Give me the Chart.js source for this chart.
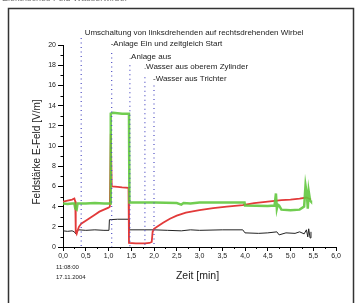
<!DOCTYPE html>
<html>
<head>
<meta charset="utf-8">
<script src="https://cdn.jsdelivr.net/npm/chart.js@4/dist/chart.umd.min.js"></script>
<style>
html,body{margin:0;padding:0;background:#fff;}
#c{display:block;}
</style>
</head>
<body>
<canvas id="c" width="356" height="303" style="width:356px;height:303px"></canvas>
<script>
// ---- data ----
const xTicks = [0,0.5,1,1.5,2,2.5,3,3.5,4,4.5,5,5.5,6];
const yTicks = [0,2,4,6,8,10,12,14,16,18,20];

const greenT = [0,0.1,0.2,0.25,0.27,0.3,0.32,0.5,0.7,0.9,1.04,1.05,1.1,1.3,1.45,1.46,2.0,2.5,2.6,2.65,2.8,3.0,3.5,3.99,4.0,4.5,4.65,4.68,4.7,4.72,4.75,4.8,5.0,5.2,5.3,5.33,5.36,5.38,5.4,5.43,5.45];
const greenV = [4.3,4.25,4.3,4.3,3.8,3.7,4.3,4.3,4.35,4.3,4.3,13.2,13.3,13.2,13.2,4.4,4.4,4.35,4.2,4.35,4.3,4.4,4.4,4.4,4.1,4.05,4.1,5.3,3.8,4.2,4.1,3.7,3.65,3.7,4.0,6.1,5.2,3.8,5.5,4.6,4.5];

const redT = [0,0.1,0.2,0.25,0.27,0.28,0.3,0.32,0.35,0.4,0.5,0.6,0.7,0.8,0.9,1.0,1.03,1.05,1.07,1.08,1.2,1.3,1.44,1.45,1.6,1.8,1.9,1.95,1.97,2.0,2.1,2.2,2.35,2.5,2.7,3.0,3.3,3.6,3.95,4.2,4.5,4.8,5.0,5.2,5.35,5.4,5.45];
const redV = [4.5,4.6,4.7,4.8,4.5,1.5,1.3,1.6,2.0,2.3,2.6,2.9,3.2,3.5,3.7,3.9,4.0,11.2,6.1,6.0,5.95,5.9,5.85,0.4,0.35,0.35,0.4,0.5,1.5,1.8,2.1,2.4,2.8,3.1,3.4,3.65,3.85,4.0,4.15,4.35,4.5,4.65,4.7,4.8,4.9,4.8,4.7];

const blackT = [0,0.1,0.2,0.25,0.28,0.3,0.35,0.5,0.7,0.9,1.01,1.02,1.2,1.44,1.45,1.8,2.0,2.3,2.6,2.8,3.0,3.5,3.95,4.0,4.3,4.5,4.7,4.75,4.9,5.1,5.2,5.3,5.35,5.38,5.4,5.43,5.45];
const blackV = [1.6,1.55,1.6,1.5,1.3,1.6,1.7,1.65,1.7,1.65,1.65,2.7,2.75,2.75,1.7,1.7,1.7,1.65,1.6,1.7,1.65,1.7,1.7,1.4,1.35,1.4,1.5,1.2,1.4,1.35,1.5,1.3,1.7,1.0,1.8,0.9,1.5];

const annX = [0.4, 1.07, 1.47, 1.8, 2.0];
const annTop = [20.7, 19.2, 18.0, 16.8, 16.0];
const annLabelY = [21.2, 20.1, 18.8, 17.8, 16.7];
const annLabels = [
  "  Umschaltung von linksdrehenden auf rechtsdrehenden Wirbel",
  "-Anlage Ein und zeitgleich Start",
  ".Anlage aus",
  ".Wasser aus oberem Zylinder",
  "-Wasser aus Trichter"
];
const xTitle = "Zeit [min]";
const yTitle = "Feldstärke E-Feld [V/m]";
const stampTime = "11:08:00";
const stampDate = "17.11.2004";
const topText = "Elektrisches Feld Wasserwirbel";

// ---- build ----
const pts = (t, v) => t.map((x, i) => ({x: x, y: v[i]}));
const datasets = [];
annX.forEach((x, i) => {
  datasets.push({
    data: [{x: x, y: annTop[i]}, {x: x, y: 0}],
    borderColor: '#4f4fc4', borderWidth: 1.2, borderDash: [1, 3.5],
    pointRadius: 0, clip: false, order: 0
  });
});
datasets.push({data: pts(greenT, greenV), borderColor: 'rgba(98,200,62,0.9)', borderWidth: 2.5, pointRadius: 0, order: 1});
datasets.push({data: pts(redT, redV), borderColor: '#e23a3a', borderWidth: 1.8, pointRadius: 0, order: 2});
datasets.push({data: pts(blackT, blackV), borderColor: '#222', borderWidth: 1, pointRadius: 0, order: 3});

const decor = {
  id: 'decor',
  beforeDraw(chart) {
    const ctx = chart.ctx;
    ctx.save();
    ctx.fillStyle = '#fff';
    ctx.fillRect(0, 0, chart.width, chart.height);
    ctx.strokeStyle = '#333';
    ctx.lineWidth = 1.5;
    ctx.strokeRect(8.5, 8.5, 345, 400);
    ctx.fillStyle = '#777';
    ctx.font = '9px "Liberation Sans", Arial, sans-serif';
    ctx.textBaseline = 'alphabetic';
    ctx.fillText(topText, 2, 0.5);
    ctx.restore();
  },
  afterDraw(chart) {
    const ctx = chart.ctx;
    const xs = chart.scales.x, ys = chart.scales.y;
    const ca = chart.chartArea;
    ctx.save();
    // minor ticks
    ctx.strokeStyle = '#000';
    ctx.lineWidth = 1;
    for (let v = 0.25; v < 6; v += 0.5) {
      const px = Math.round(xs.getPixelForValue(v)) + 0.5;
      ctx.beginPath(); ctx.moveTo(px, ca.bottom); ctx.lineTo(px, ca.bottom + 2); ctx.stroke();
    }
    for (let v = 1; v < 20; v += 2) {
      const py = Math.round(ys.getPixelForValue(v)) + 0.5;
      ctx.beginPath(); ctx.moveTo(ca.left - 2.5, py); ctx.lineTo(ca.left, py); ctx.stroke();
    }
    // annotation labels
    ctx.fillStyle = '#222';
    ctx.font = '8px "Liberation Sans", Arial, sans-serif';
    ctx.textBaseline = 'middle';
    ctx.textAlign = 'left';
    annLabels.forEach((s, i) => {
      ctx.fillText(s, xs.getPixelForValue(annX[i]) - 1, ys.getPixelForValue(annLabelY[i]));
    });
    // axis titles
    ctx.font = '10.5px "Liberation Sans", Arial, sans-serif';
    ctx.textAlign = 'center';
    ctx.fillText(xTitle, (ca.left + ca.right) / 2 - 2, 276);
    ctx.save();
    ctx.translate(37, 152);
    ctx.rotate(-Math.PI / 2);
    ctx.font = '10px "Liberation Sans", Arial, sans-serif';
    ctx.fillText(yTitle, 0, 0);
    ctx.restore();
    // stamp
    ctx.font = '6px "Liberation Sans", Arial, sans-serif';
    ctx.textAlign = 'left';
    ctx.fillText(stampTime, 56, 267);
    ctx.fillText(stampDate, 56, 277);
    ctx.restore();
  }
};

new Chart(document.getElementById('c'), {
  type: 'line',
  data: {datasets: datasets},
  options: {
    responsive: false,
    animation: false,
    devicePixelRatio: 1,
    layout: {padding: {left: 0, right: 20, top: 45, bottom: 0}},
    plugins: {legend: {display: false}, tooltip: {enabled: false}},
    elements: {line: {tension: 0}},
    scales: {
      x: {
        type: 'linear', min: 0, max: 6,
        afterFit(s) { s.height = 56; },
        afterBuildTicks(s) { s.ticks = xTicks.map(v => ({value: v})); },
        border: {display: true, color: '#000', width: 1},
        grid: {drawOnChartArea: false, drawTicks: true, tickLength: 4, color: '#000'},
        ticks: {
          padding: 1, color: '#222', maxRotation: 0, autoSkip: false,
          font: {size: 7, family: '"Liberation Sans", Arial, sans-serif'},
          callback: v => v.toFixed(1).replace('.', ',')
        }
      },
      y: {
        type: 'linear', min: 0, max: 20,
        afterFit(s) { s.width = 63; },
        afterBuildTicks(s) { s.ticks = yTicks.map(v => ({value: v})); },
        border: {display: true, color: '#000', width: 1},
        grid: {drawOnChartArea: false, drawTicks: true, tickLength: 5, color: '#000'},
        ticks: {
          padding: 2, color: '#222', autoSkip: false,
          font: {size: 7, family: '"Liberation Sans", Arial, sans-serif'},
          callback: v => String(v)
        }
      }
    }
  },
  plugins: [decor]
});
</script>
</body>
</html>
